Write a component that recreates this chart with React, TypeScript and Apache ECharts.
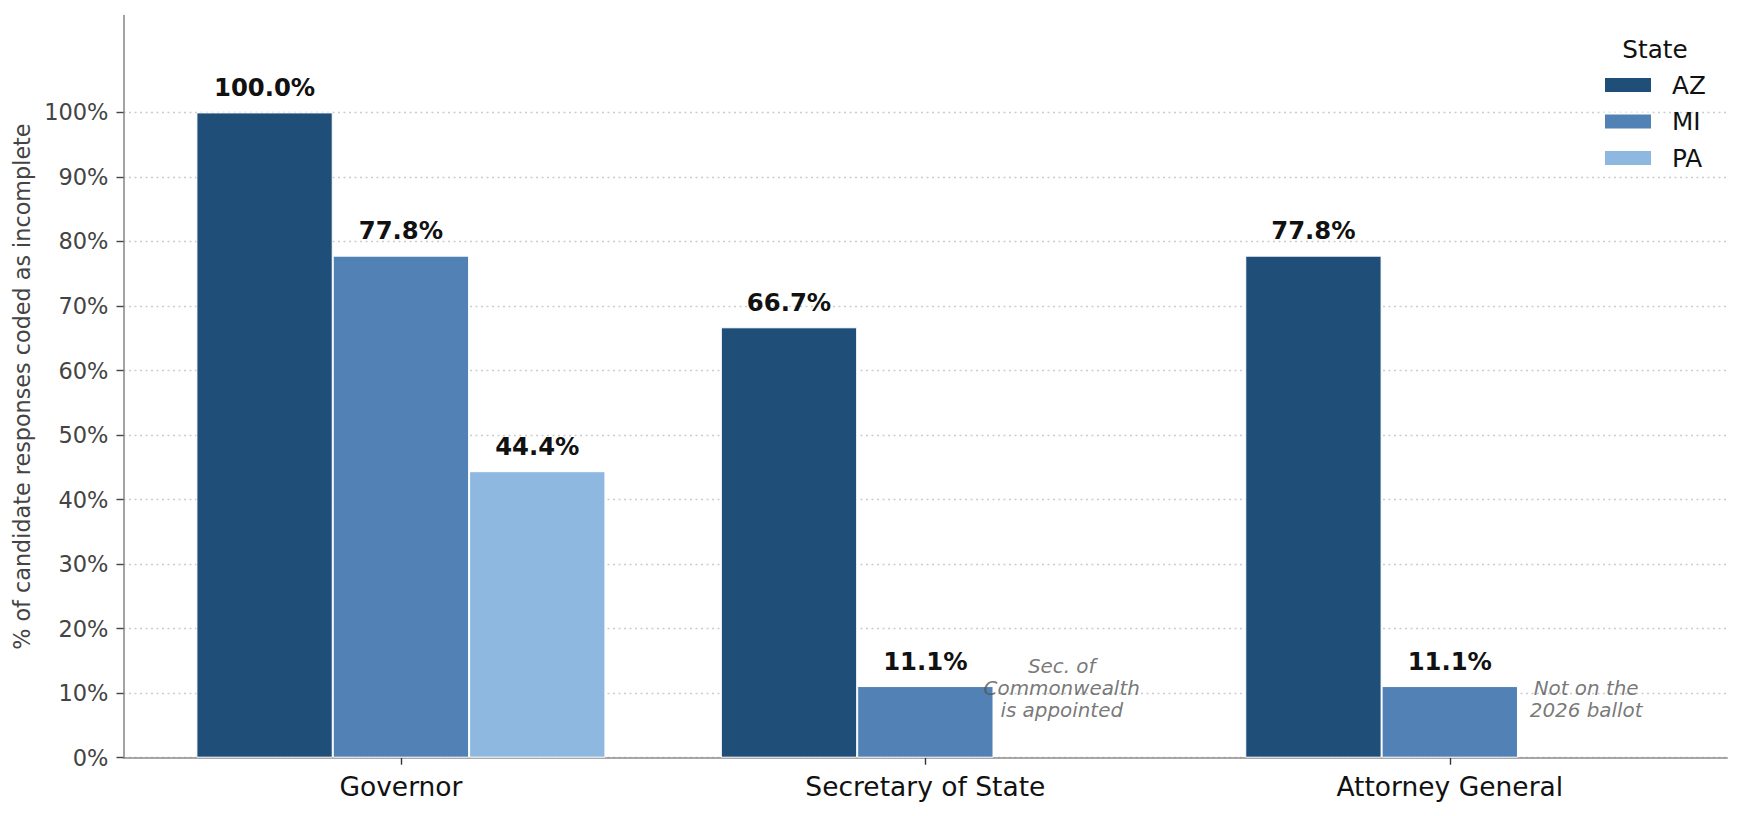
import React, { useEffect, useRef } from 'react'
import * as echarts from 'echarts'

// ---- data ----
const offices = ['Governor', 'Secretary of State', 'Attorney General']
const states = ['AZ', 'MI', 'PA']
const stateColors = ['#1f4e79', '#5181b5', '#8fb8e0']
// % of candidate responses coded as incomplete, in office order (null = no race)
const azValues: (number | null)[] = [100.0, 66.7, 77.8]
const miValues: (number | null)[] = [77.8, 11.1, 11.1]
const paValues: (number | null)[] = [44.4, null, null]
const yTicks = [0, 10, 20, 30, 40, 50, 60, 70, 80, 90, 100]
// notes sit in the empty PA slot
const noteOffices = [1, 2]
const noteTexts = ['Sec. of\nCommonwealth\nis appointed', 'Not on the\n2026 ballot']

const W = 1744
const H = 816
const FONT = 'DejaVu Sans'
const BAR_W = 0.26 // bar width in category units
const NOTE_Y = 5.6

const grid = { left: 123.5, right: 16.8, top: 15.6, bottom: 58.3 }

export default function App() {
  const chartRef = useRef<HTMLDivElement>(null)

  useEffect(() => {
    if (!chartRef.current) return
    const chart = echarts.init(chartRef.current, undefined, { renderer: 'svg' })

    // same padding matplotlib gives: 5% of the bar extent each side
    const span = offices.length - 1 + 3 * BAR_W
    const xMin = -1.5 * BAR_W - 0.05 * span
    const xMax = offices.length - 1 + 1.5 * BAR_W + 0.05 * span
    const plotW = W - grid.left - grid.right
    const barPx = (plotW / (xMax - xMin)) * BAR_W

    const allValues = [azValues, miValues, paValues]

    const barSeries = states.map((st, si) => ({
      name: st,
      type: 'bar',
      barWidth: barPx,
      barGap: '-100%',
      itemStyle: { color: stateColors[si], borderColor: '#ffffff', borderWidth: 1 },
      label: {
        show: true,
        position: 'top',
        distance: 13,
        fontFamily: FONT,
        fontWeight: 'bold',
        fontSize: 24.3,
        color: '#111111',
        formatter: (p: any) => p.value[1].toFixed(1) + '%',
      },
      data: allValues[si]
        .map((v, i) => (v == null ? null : [i + (si - 1) * BAR_W, v]))
        .filter(d => d !== null),
    }))

    const noteSeries = {
      type: 'scatter',
      symbolSize: 0,
      silent: true,
      label: {
        show: true,
        position: 'top',
        distance: 0,
        fontFamily: FONT,
        fontStyle: 'italic',
        fontSize: 19.9,
        lineHeight: 22,
        color: '#555555',
        align: 'center',
        formatter: (p: any) => noteTexts[p.dataIndex],
      },
      data: noteOffices.map(i => [i + BAR_W, NOTE_Y]),
    }

    chart.setOption({
      animation: false,
      textStyle: { fontFamily: FONT },
      grid: { ...grid, containLabel: false },
      legend: {
        data: states,
        orient: 'vertical',
        left: 1603,
        top: 72.5,
        padding: 0,
        itemWidth: 48,
        itemHeight: 16,
        itemGap: 11.5,
        icon: 'rect',
        textStyle: { fontFamily: FONT, fontSize: 24.7, color: '#111111', padding: [0, 0, 0, 15] },
      },
      graphic: [
        {
          type: 'text',
          x: 1655,
          y: 49,
          style: {
            text: 'State',
            fontFamily: FONT,
            fontSize: 24.7,
            fill: '#111111',
            textAlign: 'center',
            textVerticalAlign: 'middle',
          },
        },
      ],
      xAxis: {
        type: 'value',
        min: xMin,
        max: xMax,
        axisLine: { show: true, onZero: false, lineStyle: { color: '#8c8c8c', width: 1.6 } },
        axisTick: { show: true, customValues: [0, 1, 2], length: 7, lineStyle: { color: '#333333', width: 1.4 } },
        axisLabel: {
          customValues: [0, 1, 2],
          margin: 15,
          fontFamily: FONT,
          fontSize: 26.5,
          color: '#111111',
          formatter: (v: number) => offices[Math.round(v)] ?? '',
        },
        splitLine: { show: false },
      },
      yAxis: {
        type: 'value',
        min: 0,
        max: 115,
        interval: 10,
        name: '% of candidate responses coded as incomplete',
        nameLocation: 'middle',
        nameGap: 86,
        nameTextStyle: { fontFamily: FONT, fontSize: 22.3, color: '#444444' },
        axisLine: { show: true, onZero: false, lineStyle: { color: '#8c8c8c', width: 1.6 } },
        axisTick: { show: true, customValues: yTicks, length: 7, lineStyle: { color: '#444444', width: 1.4 } },
        axisLabel: {
          customValues: yTicks,
          margin: 15,
          fontFamily: FONT,
          fontSize: 22.5,
          color: '#444444',
          formatter: (v: number) => v + '%',
        },
        splitLine: { show: true, lineStyle: { color: '#cccccc', width: 1.3, type: [2, 3.5] } },
      },
      series: [...barSeries, noteSeries],
    })

    return () => chart.dispose()
  }, [])

  return (
    <div
      ref={chartRef}
      style={{ position: 'fixed', left: 0, top: 0, width: W + 'px', height: H + 'px', background: '#ffffff' }}
    />
  )
}
